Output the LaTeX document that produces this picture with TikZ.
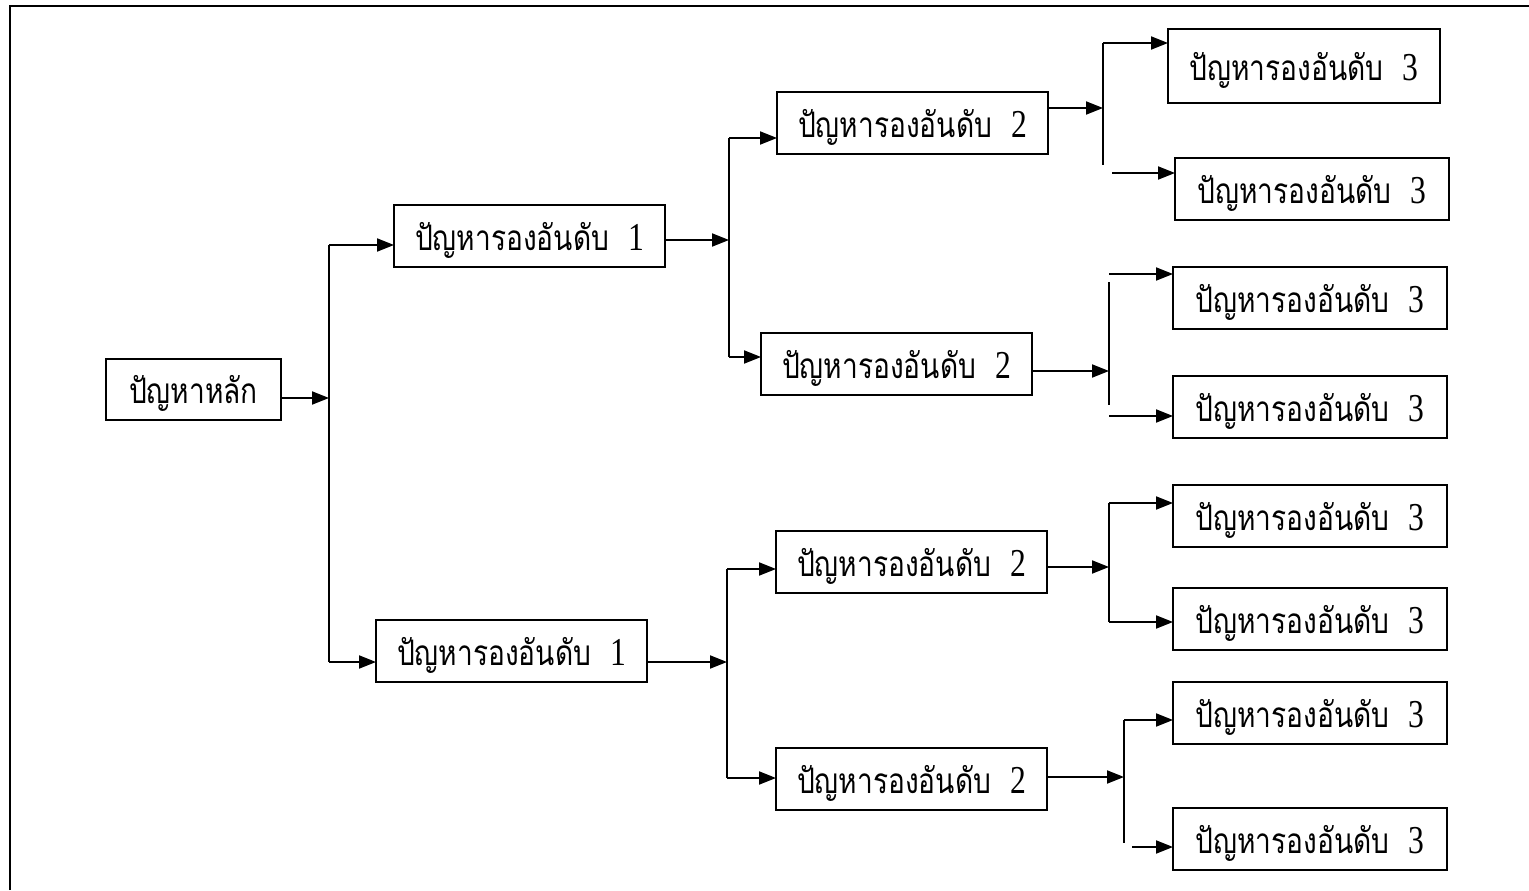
\documentclass[tikz,border=0pt]{standalone}
\usepackage{fontspec}
\newfontfamily\thai[Script=Thai]{Loma}
\newfontfamily\digitfont{Liberation Serif}
\usetikzlibrary{arrows.meta}
\newcommand{\lbl}[2]{\scalebox{1}[1.25]{#1\ifx&#2&\else~~{\digitfont\fontsize{18}{20}\selectfont #2}\fi}}
\tikzset{
  ln/.style={line width=1.1pt},
  arr/.style={line width=1.1pt,-{Triangle[length=0.34cm,width=0.26cm]}},
  box/.style={draw,line width=1.1pt,inner sep=0pt,outer sep=0pt,anchor=north west,
    font=\thai\fontsize{16}{18}\selectfont,align=center,text depth=-3pt},
  bw/.style={minimum width=5.42cm,minimum height=1.24cm},
  bt/.style={minimum width=5.48cm,minimum height=1.24cm}
}
\begin{document}
\begin{tikzpicture}[x=0.02cm,y=-0.02cm]
\useasboundingbox (0,0) rectangle (1529,890);
% frame
\draw[ln] (10,890) -- (10,6) -- (1529,6);
% nodes
\node[box,minimum width=3.5cm,minimum height=1.22cm] (M) at (106,359) {\lbl{ปัญหาหลัก}{}};
\node[box,bw] (L1a) at (394,205) {\lbl{ปัญหารองอันดับ}{1}};
\node[box,bw] (L1b) at (376,620) {\lbl{ปัญหารองอันดับ}{1}};
\node[box,bw] (L2a) at (777,92) {\lbl{ปัญหารองอันดับ}{2}};
\node[box,bw] (L2b) at (761,333) {\lbl{ปัญหารองอันดับ}{2}};
\node[box,bw] (L2c) at (776,531) {\lbl{ปัญหารองอันดับ}{2}};
\node[box,bw] (L2d) at (776,748) {\lbl{ปัญหารองอันดับ}{2}};
\node[box,minimum width=5.44cm,minimum height=1.48cm] (L3a) at (1168,29) {\lbl{ปัญหารองอันดับ}{3}};
\node[box,bt] (L3b) at (1175,158) {\lbl{ปัญหารองอันดับ}{3}};
\node[box,bt] (L3c) at (1173,267) {\lbl{ปัญหารองอันดับ}{3}};
\node[box,bt] (L3d) at (1173,376) {\lbl{ปัญหารองอันดับ}{3}};
\node[box,bt] (L3e) at (1173,485) {\lbl{ปัญหารองอันดับ}{3}};
\node[box,bt] (L3f) at (1173,588) {\lbl{ปัญหารองอันดับ}{3}};
\node[box,bt] (L3g) at (1173,682) {\lbl{ปัญหารองอันดับ}{3}};
\node[box,bt] (L3h) at (1173,808) {\lbl{ปัญหารองอันดับ}{3}};
% junction coordinates
\coordinate (j0) at (329,398); \coordinate (j0t) at (329,245); \coordinate (j0b) at (329,662);
\coordinate (j1) at (729,240); \coordinate (j1t) at (729,138); \coordinate (j1b) at (729,357);
\coordinate (j2) at (727,662); \coordinate (j2t) at (727,569); \coordinate (j2b) at (727,778);
\coordinate (k1) at (1103,108); \coordinate (k1t) at (1103,43); \coordinate (k1e) at (1103,165); \coordinate (k1s) at (1112,173);
\coordinate (k2) at (1109,371); \coordinate (k2v) at (1109,282); \coordinate (k2e) at (1109,405);
\coordinate (k2t) at (1109,274); \coordinate (k2b) at (1109,416);
\coordinate (k3) at (1109,567); \coordinate (k3t) at (1109,503); \coordinate (k3b) at (1109,622);
\coordinate (k4) at (1124,777); \coordinate (k4t) at (1124,720); \coordinate (k4e) at (1124,843); \coordinate (k4s) at (1132,847);
% level 0 -> 1
\draw[arr] (M.east |- j0) -- (j0);
\draw[ln] (j0t) -- (j0b);
\draw[arr] (j0t) -- (L1a.west |- j0t);
\draw[arr] (j0b) -- (L1b.west |- j0b);
% level 1 -> 2
\draw[arr] (L1a.east |- j1) -- (j1);
\draw[ln] (j1t) -- (j1b);
\draw[arr] (j1t) -- (L2a.west |- j1t);
\draw[arr] (j1b) -- (L2b.west |- j1b);
\draw[arr] (L1b.east |- j2) -- (j2);
\draw[ln] (j2t) -- (j2b);
\draw[arr] (j2t) -- (L2c.west |- j2t);
\draw[arr] (j2b) -- (L2d.west |- j2b);
% level 2 -> 3
\draw[arr] (L2a.east |- k1) -- (k1);
\draw[ln] (k1t) -- (k1e);
\draw[arr] (k1t) -- (L3a.west |- k1t);
\draw[arr] (k1s) -- (L3b.west |- k1s);
\draw[arr] (L2b.east |- k2) -- (k2);
\draw[ln] (k2v) -- (k2e);
\draw[arr] (k2t) -- (L3c.west |- k2t);
\draw[arr] (k2b) -- (L3d.west |- k2b);
\draw[arr] (L2c.east |- k3) -- (k3);
\draw[ln] (k3t) -- (k3b);
\draw[arr] (k3t) -- (L3e.west |- k3t);
\draw[arr] (k3b) -- (L3f.west |- k3b);
\draw[arr] (L2d.east |- k4) -- (k4);
\draw[ln] (k4t) -- (k4e);
\draw[arr] (k4t) -- (L3g.west |- k4t);
\draw[arr] (k4s) -- (L3h.west |- k4s);
\end{tikzpicture}
\end{document}
